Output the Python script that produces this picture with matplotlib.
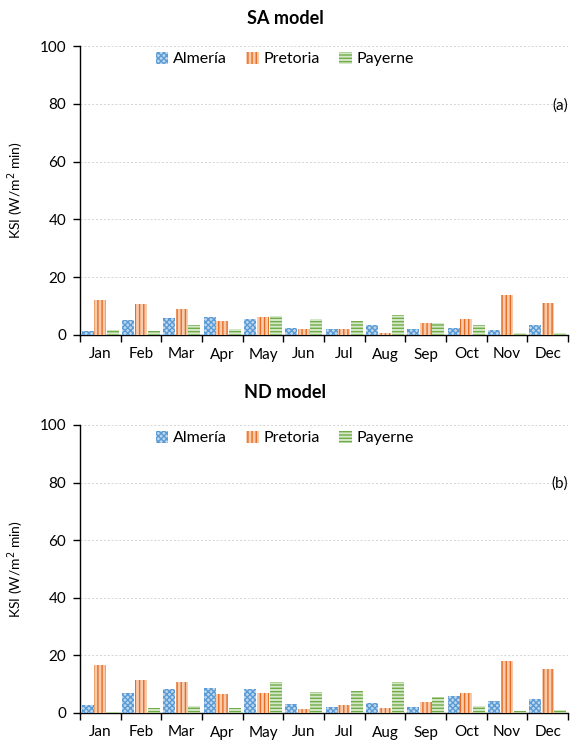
import matplotlib
matplotlib.use("Agg")
import matplotlib.pyplot as plt
import numpy as np

plt.rcParams['font.family'] = ['Lato', 'DejaVu Sans']
plt.rcParams['hatch.linewidth'] = 1.0

months = ["Jan", "Feb", "Mar", "Apr", "May", "Jun",
          "Jul", "Aug", "Sep", "Oct", "Nov", "Dec"]
sites = ["Almería", "Pretoria", "Payerne"]

# KSI per month, SA model
sa_almeria = [1.4, 5.2, 6.0, 6.2, 5.5, 2.5, 2.1, 3.6, 2.1, 2.3, 1.8, 3.3]
sa_pretoria = [12.1, 10.6, 9.0, 4.9, 6.1, 2.0, 2.1, 0.7, 4.1, 5.4, 13.7, 11.0]
sa_payerne = [1.7, 1.5, 3.5, 2.0, 6.6, 5.5, 4.9, 7.0, 4.2, 3.3, 0.8, 0.8]

# KSI per month, ND model
nd_almeria = [2.7, 7.0, 8.2, 8.6, 8.2, 3.0, 2.0, 3.4, 2.0, 6.0, 4.0, 4.7]
nd_pretoria = [16.5, 11.6, 10.6, 6.6, 6.8, 1.4, 2.7, 1.6, 3.7, 6.8, 18.2, 15.2]
nd_payerne = [0.5, 1.6, 2.4, 1.6, 10.8, 7.2, 7.5, 10.8, 5.5, 2.5, 0.6, 0.9]

styles = [
    dict(facecolor="#bdd7ee", edgecolor="#5b9bd5", hatch="xxxxxx"),
    dict(facecolor="#f8cbad", edgecolor="#e46c24", hatch="||||"),
    dict(facecolor="#d5e8c9", edgecolor="#70ad47", hatch="-----"),
]

fig = plt.figure(figsize=(5.70, 7.48), dpi=100)
W, H = 570, 748
ax_specs = [
    ("SA model", "(a)", [sa_almeria, sa_pretoria, sa_payerne], 46, 335, 18),
    ("ND model", "(b)", [nd_almeria, nd_pretoria, nd_payerne], 425, 713, 393),
]

x = np.arange(len(months))
bw = 0.3
offsets = [-0.31, 0.0, 0.31]

for title, tag, series, ytop, ybot, ytitle in ax_specs:
    ax = fig.add_axes([80 / W, 1 - ybot / H, 488 / W, (ybot - ytop) / H])
    for vals, off, st, name in zip(series, offsets, styles, sites):
        ax.bar(x + off, vals, width=bw, linewidth=0, label=name, zorder=3, **st)
    ax.set_xlim(-0.5, 11.5)
    ax.set_ylim(0, 100)
    ax.set_yticks(np.arange(0, 101, 20))
    ax.yaxis.grid(True, linestyle=(0, (2, 2)), color="#d4d4d4", linewidth=0.7, zorder=0)
    ax.set_xticks(x)
    ax.set_xticklabels(months)
    ax.set_xticks(np.arange(-0.5, 12, 1), minor=True)
    ax.tick_params(axis="x", which="major", length=0, pad=9, labelsize=11)
    ax.tick_params(axis="x", which="minor", length=5, width=1, direction="out")
    ax.tick_params(axis="y", length=5, width=1, labelsize=11, pad=5)
    for s in ("top", "right"):
        ax.spines[s].set_visible(False)
    for s in ("left", "bottom"):
        ax.spines[s].set_linewidth(1.0)
    ax.set_ylabel("KSI (W/m$^2$ min)", fontsize=10, labelpad=10)
    fig.text(0.5, 1 - ytitle / H, title, ha="center", va="center",
             fontsize=13, fontweight="bold")
    ax.text(1.0, 0.795, tag, transform=ax.transAxes, ha="right", va="center", fontsize=11)
    ax.legend(loc="center", bbox_to_anchor=(0.42, 0.955), ncol=3, frameon=False,
              fontsize=11.5, handlelength=0.8, handleheight=0.8, handletextpad=0.3,
              columnspacing=1.2)

fig.savefig("out.png", dpi=100)
